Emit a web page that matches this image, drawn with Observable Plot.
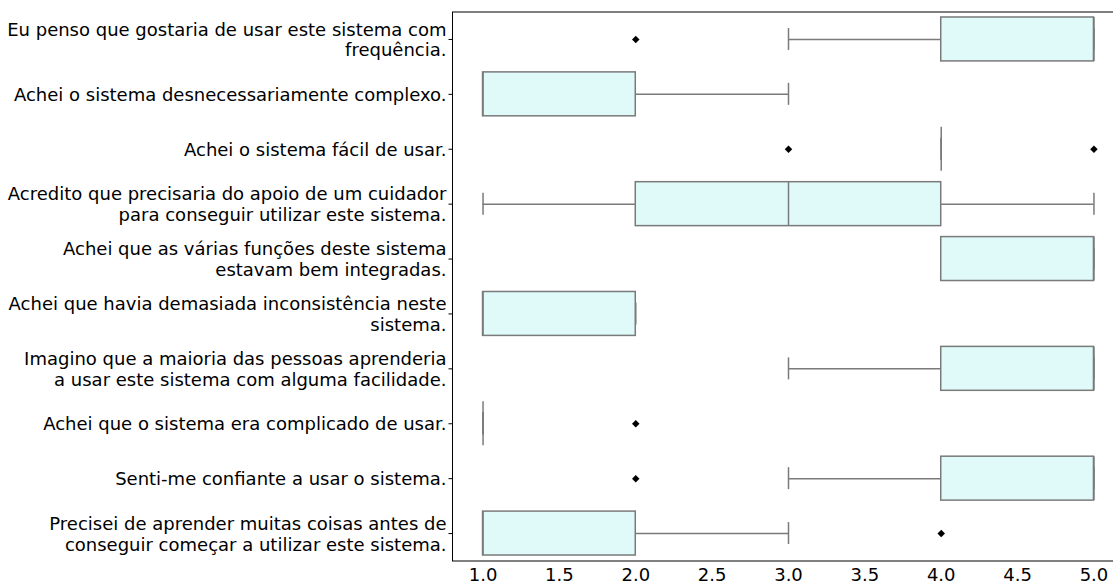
<!DOCTYPE html>
<html>
<head>
<meta charset="utf-8">
<script src="https://cdn.jsdelivr.net/npm/d3@7"></script>
<script src="https://cdn.jsdelivr.net/npm/@observablehq/plot@0.6"></script>
<style>
  html, body { margin: 0; padding: 0; background: white; overflow: hidden; }
  #chart svg { overflow: hidden; }
</style>
</head>
<body>
<div id="chart"></div>
<script>
const labels = [
  "Eu penso que gostaria de usar este sistema com\nfrequência.",
  "Achei o sistema desnecessariamente complexo.",
  "Achei o sistema fácil de usar.",
  "Acredito que precisaria do apoio de um cuidador\npara conseguir utilizar este sistema.",
  "Achei que as várias funções deste sistema\nestavam bem integradas.",
  "Achei que havia demasiada inconsistência neste\nsistema.",
  "Imagino que a maioria das pessoas aprenderia\na usar este sistema com alguma facilidade.",
  "Achei que o sistema era complicado de usar.",
  "Senti-me confiante a usar o sistema.",
  "Precisei de aprender muitas coisas antes de\nconseguir começar a utilizar este sistema."
];
const q1 =        [4, 1, 4, 2, 4, 1, 4, 1, 4, 1];
const medians =   [5, 1, 4, 3, 5, 1, 5, 1, 5, 1];
const q3 =        [5, 2, 4, 4, 5, 2, 5, 1, 5, 2];
const whiskerLo = [3, 1, 4, 1, 4, 1, 3, 1, 3, 1];
const whiskerHi = [5, 3, 4, 5, 5, 2, 5, 1, 5, 3];
const outlierCat = [0, 2, 2, 7, 8, 9];
const outlierVal = [2, 3, 5, 2, 2, 4];
const xTicks = [1.0, 1.5, 2.0, 2.5, 3.0, 3.5, 4.0, 4.5, 5.0];

const rows = labels.map((label, i) => ({
  label, q1: q1[i], med: medians[i], q3: q3[i], lo: whiskerLo[i], hi: whiskerHi[i]
}));
const outliers = outlierCat.map((c, i) => ({label: labels[c], value: outlierVal[i]}));

const W = 1113, H = 581, mt = 11.5, mb = 20.5;
const step = (H - mt - mb) / labels.length;
const capInset = step * 0.8 * 0.25;
const edge = "#7a7a7a";

const chart = Plot.plot({
  width: W,
  height: H,
  marginLeft: 452,
  marginRight: -11,
  marginTop: mt,
  marginBottom: mb,
  style: {fontFamily: "DejaVu Sans", fontSize: "18px", color: "black", background: "white", overflow: "hidden"},
  x: {domain: [0.8, 5.2], ticks: xTicks, tickFormat: d3.format(".1f")},
  y: {domain: labels, paddingInner: 0.2, paddingOuter: 0.1, round: false},
  marks: [
    Plot.ruleY(rows, {y: "label", x1: "lo", x2: "q1", stroke: edge, strokeWidth: 1.5}),
    Plot.ruleY(rows, {y: "label", x1: "q3", x2: "hi", stroke: edge, strokeWidth: 1.5}),
    Plot.tickX(rows, {y: "label", x: "lo", stroke: edge, strokeWidth: 1.5, insetTop: capInset, insetBottom: capInset}),
    Plot.tickX(rows, {y: "label", x: "hi", stroke: edge, strokeWidth: 1.5, insetTop: capInset, insetBottom: capInset}),
    Plot.barX(rows, {y: "label", x1: "q1", x2: "q3", fill: "#e0fafa", stroke: edge, strokeWidth: 1.5}),
    Plot.tickX(rows, {y: "label", x: "med", stroke: edge, strokeWidth: 1.5}),
    Plot.dot(outliers, {y: "label", x: "value", symbol: "square", rotate: 45, fill: "black", r: 3}),
    Plot.frame({stroke: "black", strokeWidth: 1}),
    Plot.axisX({ticks: xTicks, tickFormat: d3.format(".1f"), tickSize: 0, tickPadding: 7, fontSize: 18, label: null}),
    Plot.axisY({tickSize: 3.5, tickPadding: 2.5, fontSize: 18, lineHeight: 1.15, label: null})
  ]
});
document.getElementById("chart").appendChild(chart);
</script>
</body>
</html>
